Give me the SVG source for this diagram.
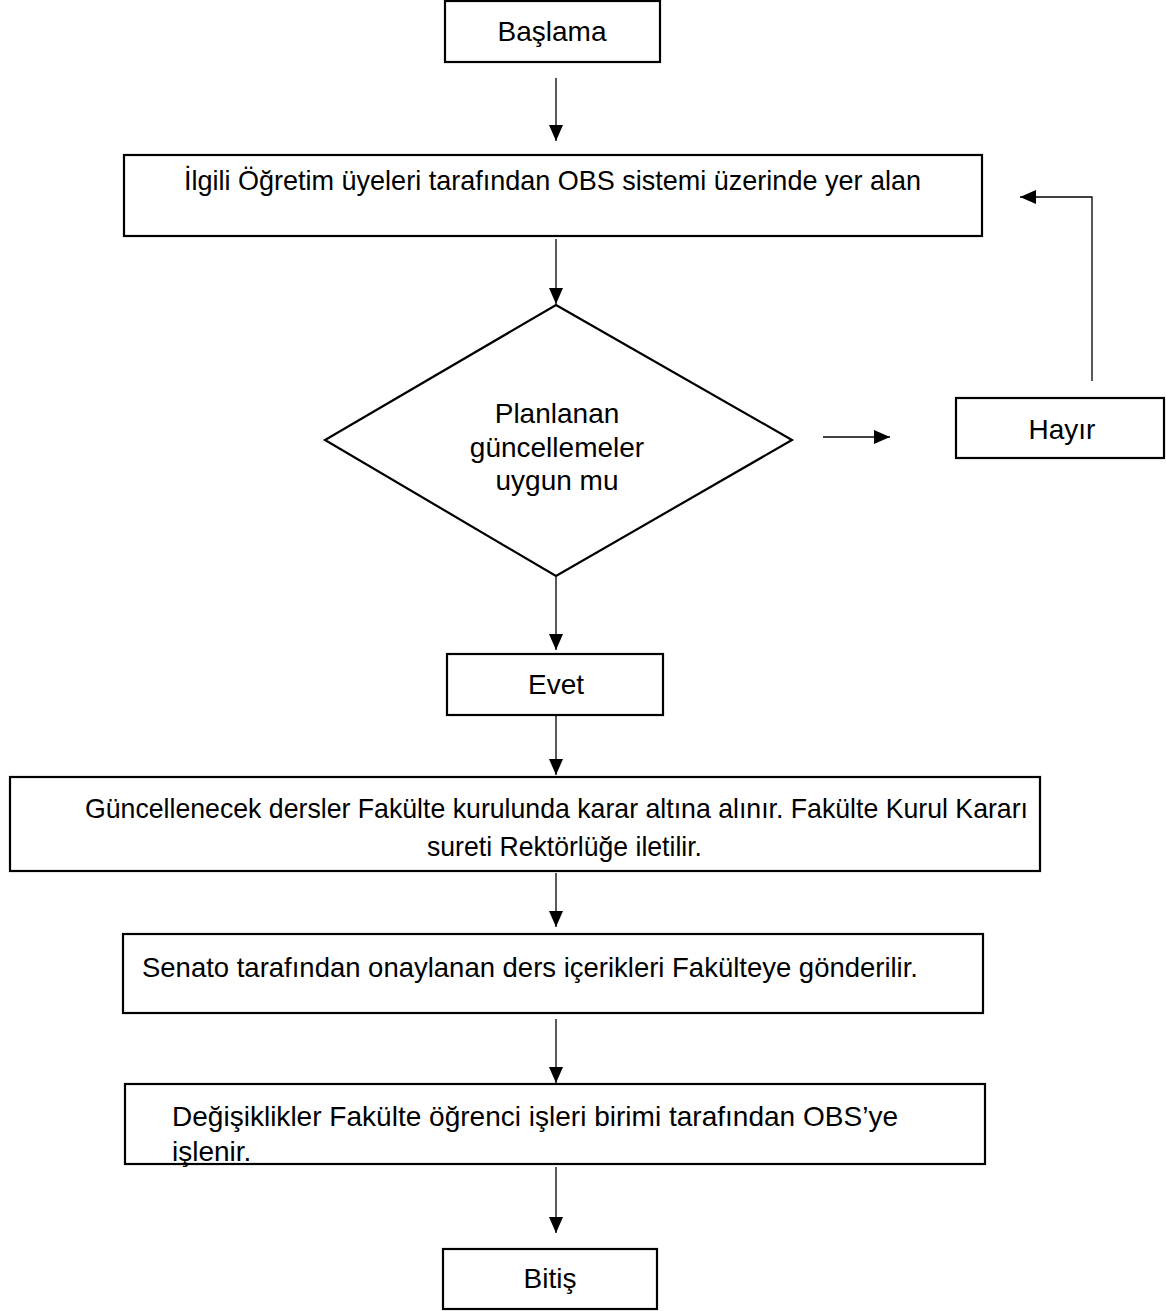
<svg xmlns="http://www.w3.org/2000/svg" width="1166" height="1311" viewBox="0 0 1166 1311">
<style>
.box{fill:#fff;stroke:#000;stroke-width:2.2}
.t{font-family:"Liberation Sans",Arial,sans-serif;font-size:28px;fill:#000}
.c{text-anchor:middle}
.ln{fill:none;stroke:#000;stroke-width:1.3}
</style>
<defs>
<marker id="ah" viewBox="0 0 16 14" refX="16" refY="7" markerWidth="16" markerHeight="14" markerUnits="userSpaceOnUse" orient="auto">
<path d="M0,0 L16,7 L0,14 Z" fill="#000"/>
</marker>
</defs>
<rect width="1166" height="1311" fill="#fff"/>
<g id="connectors">
<line class="ln" x1="556" y1="78" x2="556" y2="141" marker-end="url(#ah)"/>
<line class="ln" x1="556" y1="239" x2="556" y2="304" marker-end="url(#ah)"/>
<line class="ln" x1="556" y1="577" x2="556" y2="650" marker-end="url(#ah)"/>
<line class="ln" x1="556" y1="716" x2="556" y2="775" marker-end="url(#ah)"/>
<line class="ln" x1="556" y1="873" x2="556" y2="927" marker-end="url(#ah)"/>
<line class="ln" x1="556" y1="1019" x2="556" y2="1083" marker-end="url(#ah)"/>
<line class="ln" x1="556" y1="1167" x2="556" y2="1233" marker-end="url(#ah)"/>
<line class="ln" x1="823" y1="437" x2="890" y2="437" marker-end="url(#ah)"/>
<polyline class="ln" points="1092,381 1092,197 1020,197" marker-end="url(#ah)"/>
</g>
<g id="start">
<rect class="box" x="445" y="1" width="215" height="61"/>
<text class="t c" x="552" y="41">Başlama</text>
</g>
<g id="step1">
<rect class="box" x="124" y="155" width="858" height="81"/>
<text class="t" x="184" y="190" textLength="737" lengthAdjust="spacingAndGlyphs">İlgili Öğretim üyeleri tarafından OBS sistemi üzerinde yer alan</text>
</g>
<g id="decision">
<polygon class="box" points="556,305 792,440 556,576 325,440"/>
<text class="t c" x="557" y="423">Planlanan</text>
<text class="t c" x="557" y="457">güncellemeler</text>
<text class="t c" x="557" y="490">uygun mu</text>
</g>
<g id="no">
<rect class="box" x="956" y="398" width="208" height="60"/>
<text class="t c" x="1062" y="439">Hayır</text>
</g>
<g id="yes">
<rect class="box" x="447" y="654" width="216" height="61"/>
<text class="t c" x="556" y="694">Evet</text>
</g>
<g id="step2">
<rect class="box" x="10" y="777" width="1030" height="94"/>
<text class="t" x="85" y="818" textLength="943" lengthAdjust="spacingAndGlyphs">Güncellenecek dersler Fakülte kurulunda karar altına alınır. Fakülte Kurul Kararı</text>
<text class="t" x="427" y="856" textLength="275" lengthAdjust="spacingAndGlyphs">sureti Rektörlüğe iletilir.</text>
</g>
<g id="step3">
<rect class="box" x="123" y="934" width="860" height="79"/>
<text class="t" x="142" y="977" textLength="776" lengthAdjust="spacingAndGlyphs">Senato tarafından onaylanan ders içerikleri Fakülteye gönderilir.</text>
</g>
<g id="step4">
<rect class="box" x="125" y="1084" width="860" height="80"/>
<text class="t" x="172" y="1126" textLength="726" lengthAdjust="spacingAndGlyphs">Değişiklikler Fakülte öğrenci işleri birimi tarafından OBS’ye</text>
<text class="t" x="172" y="1161">işlenir.</text>
</g>
<g id="end">
<rect class="box" x="443" y="1249" width="214" height="60"/>
<text class="t c" x="550" y="1288">Bitiş</text>
</g>
</svg>
